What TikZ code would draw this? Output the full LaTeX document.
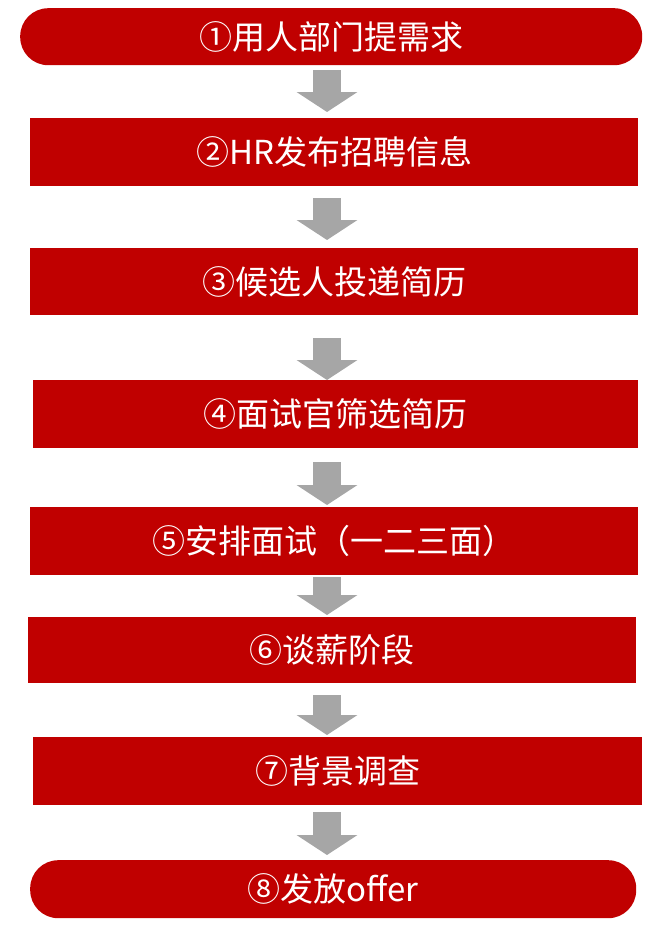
\documentclass[tikz,border=0pt]{standalone}
\usepackage{fontspec}
\newfontfamily\cjk{Noto Sans CJK SC}
\usetikzlibrary{arrows.meta,calc}
\definecolor{stepred}{HTML}{C00000}
\definecolor{arrgray}{HTML}{A6A6A6}
\tikzset{
stepbox/.style={
  rectangle,
  fill=stepred,
  text=white,
  font=\cjk\fontsize{33}{36}\selectfont,
  anchor=north west,
  inner sep=0pt,
},
endbox/.style={stepbox, rounded corners=28pt},
blk/.style={
  draw=arrgray,
  line width=28pt,
  -{Triangle[width=60pt,length=20pt]},
},
}
\begin{document}
\begin{tikzpicture}[x=1pt,y=1pt]
\useasboundingbox (0,0) rectangle (648,-930);
\coordinate (ax) at (327,0);
% steps
\node[endbox,minimum width=622pt,minimum height=57pt] (s1) at (20,-8) {①用人部门提需求};
\node[stepbox,minimum width=608pt,minimum height=68pt] (s2) at (30,-118) {②HR发布招聘信息};
\node[stepbox,minimum width=608pt,minimum height=67pt] (s3) at (30,-248) {③候选人投递简历};
\node[stepbox,minimum width=605pt,minimum height=68pt] (s4) at (33,-380) {④面试官筛选简历};
\node[stepbox,minimum width=608pt,minimum height=68pt] (s5) at (30,-507) {⑤安排面试（一二三面）};
\node[stepbox,minimum width=608pt,minimum height=66pt] (s6) at (28,-617) {⑥谈薪阶段};
\node[stepbox,minimum width=609pt,minimum height=68pt] (s7) at (33,-737) {⑦背景调查};
\node[endbox,minimum width=606pt,minimum height=58pt] (s8) at (30,-860) {⑧发放offer};
% arrows
\foreach \a/\b/\t/\e in {s1/s2/5/6, s2/s3/12/8, s3/s4/23/0, s4/s5/14/2, s5/s6/2/2, s6/s7/12/2, s7/s8/7/5}
  \draw[blk, shorten <=\t pt, shorten >=\e pt] (\a.south -| ax) -- (\b.north -| ax);
\end{tikzpicture}
\end{document}
